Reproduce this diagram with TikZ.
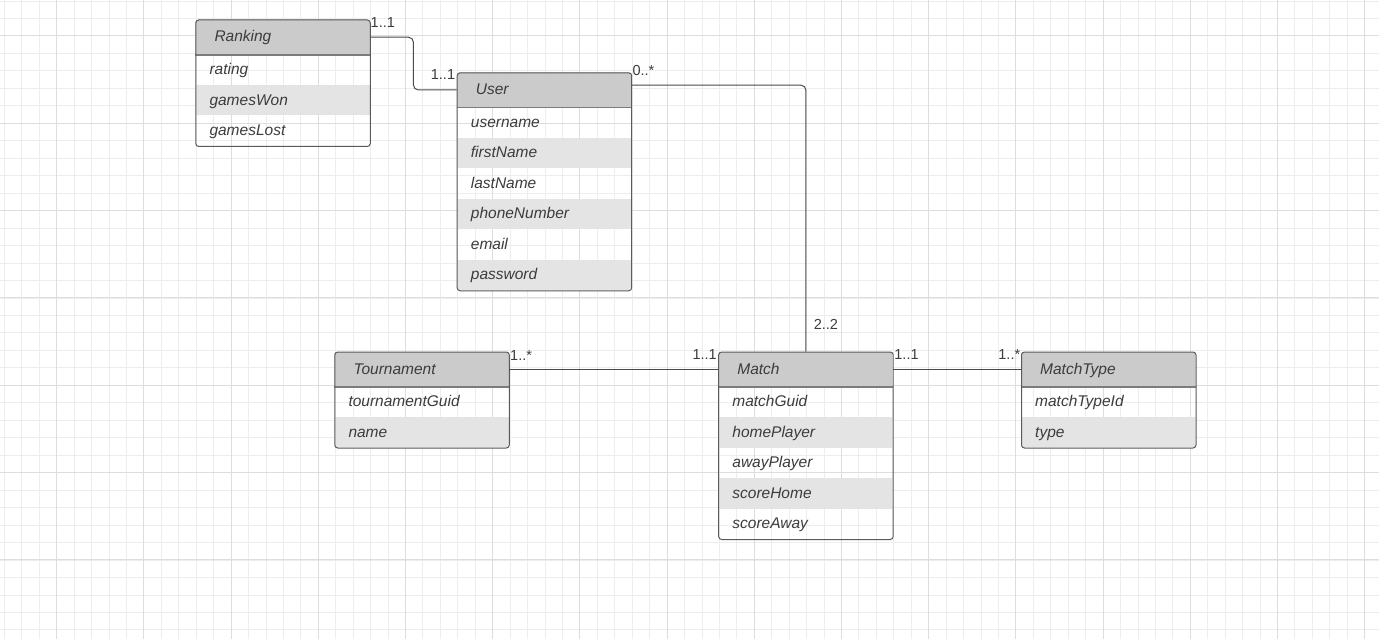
\documentclass[tikz,border=0pt]{standalone}
\usepackage{fontspec}
\setmainfont{Liberation Sans}
\usetikzlibrary{calc}

\definecolor{gridminor}{HTML}{EDEDED}
\definecolor{gridmajor}{HTML}{DDDDDD}
\definecolor{headfill}{HTML}{CBCBCB}
\definecolor{altfill}{HTML}{E4E4E4}
\definecolor{boxline}{HTML}{5A5A5A}
\definecolor{sepcol}{HTML}{7C7C7C}
\definecolor{inkcol}{HTML}{3C3C3C}
\definecolor{conncol}{HTML}{4A4A4A}

\tikzset{
  gridminorline/.style={draw=gridminor, line width=1pt},
  gridmajorline/.style={draw=gridmajor, line width=1pt},
  classbox/.style={draw=boxline, line width=1pt, rounded corners=3pt,
    minimum width=174.5pt, inner sep=0pt, anchor=north west},
  headcell/.style={minimum width=174.5pt, minimum height=35pt, inner sep=0pt, anchor=north west},
  sepline/.style={draw=sepcol, line width=1.3pt},
  titletext/.style={text=inkcol, inner sep=0pt, anchor=base west,
    font=\fontsize{15.5pt}{18pt}\selectfont\itshape},
  rowtext/.style={text=inkcol, inner sep=0pt, anchor=base west,
    font=\fontsize{15.5pt}{18pt}\selectfont\itshape},
  mult/.style={text=inkcol, inner sep=0pt, anchor=base west,
    font=\fontsize{14.5pt}{17pt}\selectfont},
  conn/.style={draw=conncol, line width=1pt, rounded corners=5pt},
}

% #1 id, #2 left, #3 top, #4 title, #5 attribute rows
\newcommand\umlclass[5]{%
  \gdef\nrows{0}%
  \foreach \r in {#5}{\xdef\nrows{\the\numexpr\nrows+1\relax}}%
  \pgfmathsetmacro\boxh{35+30.5*\nrows}%
  \begin{scope}
    \clip[rounded corners=3pt] (#2,#3) rectangle ++(174.5,\boxh);
    \fill[headfill] (#2,#3) rectangle ++(174.5,35);
    \foreach \r [count=\i] in {#5}{%
      \ifodd\i\relax\else
        \fill[altfill] (#2,#3+35+30.5*\i-30.5) rectangle ++(174.5,30.5);
      \fi}
  \end{scope}
  \node[headcell] (#1-h) at (#2,#3) {};
  \draw[sepline] (#1-h.south west) -- (#1-h.south east);
  \node[classbox, minimum height=\boxh pt] (#1) at (#2,#3) {};
  \node[titletext] (#1-t) at ($(#1-h.west)+(19,4.8)$) {#4};
  \foreach \r [count=\i] in {#5}{%
    \node[rowtext] (#1-r\i) at (#2+14,#3+35+30.5*\i-15.25+4.8) {\r};}
}

\begin{document}
\begin{tikzpicture}[x=1pt,y=-1pt]
  \useasboundingbox (0,0) rectangle (1379,639);

  % background grid
  \begin{scope}
    \clip (0,0) rectangle (1379,639);
    \fill[white] (0,0) rectangle (1379,639);
    \foreach \k in {0,...,79}{\draw[gridminorline] (4.4+\k*17.44,0) -- ++(0,639);}
    \foreach \k in {0,...,36}{\draw[gridminorline] (0,1.06+\k*17.47) -- ++(1379,0);}
    \foreach \k in {0,...,15}{\draw[gridmajorline] (56.7+\k*87.2,0) -- ++(0,639);}
    \foreach \k in {0,...,6}{\draw[gridmajorline] (0,36+\k*87.33) -- ++(1379,0);}
  \end{scope}

  % classes
  \umlclass{ranking}{195.3}{19.5}{Ranking}{rating,gamesWon,gamesLost}
  \umlclass{user}{456.7}{72.3}{User}{username,firstName,lastName,phoneNumber,email,password}
  \umlclass{tournament}{334.3}{351.5}{Tournament}{tournamentGuid,name}
  \umlclass{match}{718.2}{351.5}{Match}{matchGuid,homePlayer,awayPlayer,scoreHome,scoreAway}
  \umlclass{matchtype}{1021}{351.5}{MatchType}{matchTypeId,type}

  % associations
  \coordinate (userout) at ($(user-h.east)+(0,-4.8)$);
  \draw[conn] (ranking-h.east) -| ($(ranking-h.east)!0.5!(user-h.west)$) |- (user-h.west);
  \draw[conn] (userout) -| (match.north);
  \draw[conn] (tournament-h.east) -- (match-h.west);
  \draw[conn] (match-h.east) -- (matchtype-h.west);

  % multiplicities
  \node[mult] (m-rank) at (370.5,27.5) {1..1};
  \node[mult] (m-userl) at (430.7,80) {1..1};
  \node[mult] (m-userr) at (632.3,75.7) {0..*};
  \node[mult] (m-matchtop) at (813.6,329) {2..2};
  \node[mult] (m-tour) at (510,360) {1..*};
  \node[mult] (m-matchl) at (692.4,359.3) {1..1};
  \node[mult] (m-matchr) at (894.2,359.3) {1..1};
  \node[mult] (m-mtype) at (998.2,359.3) {1..*};
\end{tikzpicture}
\end{document}
